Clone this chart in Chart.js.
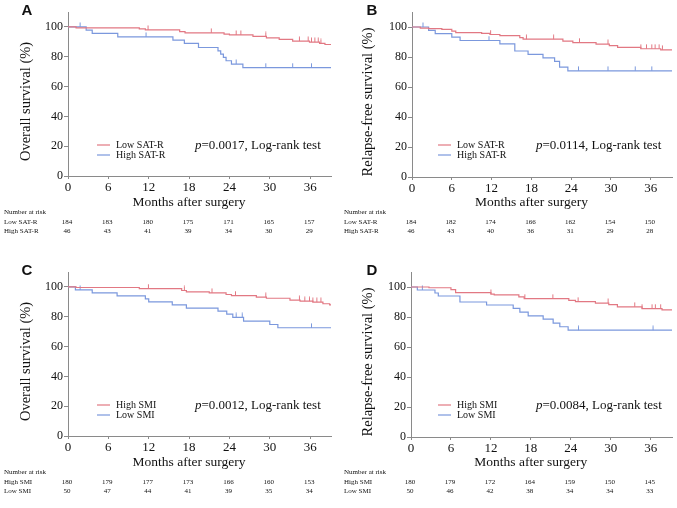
<!DOCTYPE html>
<html><head><meta charset="utf-8">
<script src="https://cdn.jsdelivr.net/npm/chart.js@4.4.1/dist/chart.umd.min.js"></script>
<style>
html,body{margin:0;padding:0;background:#fff;width:677px;height:508px;overflow:hidden}
canvas{position:absolute;display:block}
</style></head><body>
<canvas id="cA" width="338" height="254" style="left:0;top:0"></canvas>
<canvas id="cB" width="337" height="254" style="left:340px;top:0"></canvas>
<canvas id="cC" width="338" height="248" style="left:0;top:260px"></canvas>
<canvas id="cD" width="337" height="248" style="left:340px;top:260px"></canvas>
<script>
// ---- shared ticks ----
const monthTicks = [0, 6, 12, 18, 24, 30, 36];
const survTicks = [0, 20, 40, 60, 80, 100];

// ---- Panel A: Overall survival by SAT-R ----
const aLowTime  = [0, 1.2, 10.6, 11.5, 16.6, 17.4, 23.2, 24.0, 27.5, 29.5, 31.4, 33.4, 35.9, 37.4, 38.2];
const aLowSurv  = [100, 99.3, 98.7, 98.0, 96.9, 96.0, 95.1, 94.6, 93.6, 92.7, 91.6, 90.5, 89.8, 88.9, 88.2];
const aLowCens  = [11.9, 21.3, 25.0, 25.7, 29.4, 34.4, 35.7, 36.2, 36.7, 37.2, 37.6];
const aHighTime = [0, 2.7, 3.6, 7.4, 15.6, 17.3, 19.4, 22.3, 22.7, 23.1, 23.5, 24.3, 26.0];
const aHighSurv = [100, 97.8, 95.6, 93.3, 91.1, 88.9, 86.2, 83.9, 81.7, 79.6, 77.3, 75.1, 72.7];
const aHighCens = [1.8, 11.6, 25.0, 29.4, 33.4, 36.2];
const aRiskLow  = [184, 183, 180, 175, 171, 165, 157];
const aRiskHigh = [46, 43, 41, 39, 34, 30, 29];

// ---- Panel B: Relapse-free survival by SAT-R ----
const bLowTime  = [0, 1.25, 2.5, 4.5, 6.0, 6.6, 10.5, 11.75, 13.25, 16.25, 16.75, 22.75, 24.25, 27.75, 29.75, 31.0, 34.5, 37.5];
const bLowSurv  = [100, 99.3, 98.9, 98.4, 97.3, 96.2, 95.7, 95.0, 94.2, 92.9, 91.9, 90.6, 89.6, 88.6, 87.6, 86.4, 85.5, 84.8];
const bLowCens  = [11.85, 17.25, 21.35, 25.25, 29.55, 34.5, 35.35, 36.15, 36.65, 37.25, 37.75];
const bHighTime = [0, 2.5, 3.5, 6.0, 7.25, 13.25, 15.5, 17.5, 19.75, 21.5, 22.25, 23.5];
const bHighSurv = [100, 97.8, 95.6, 93.3, 91.0, 88.8, 84.0, 81.8, 79.4, 77.1, 73.3, 70.8];
const bHighCens = [1.65, 11.6, 25.1, 29.55, 33.65, 36.15];
const bRiskLow  = [184, 182, 174, 166, 162, 154, 150];
const bRiskHigh = [46, 43, 40, 36, 31, 29, 28];

// ---- Panel C: Overall survival by SMI ----
const cHighTime = [0, 1.2, 10.6, 16.9, 17.6, 21.0, 23.5, 24.3, 28.0, 29.5, 33.0, 34.5, 36.4, 37.9, 38.9];
const cHighSurv = [100, 99.6, 98.9, 97.6, 96.7, 96.0, 94.9, 94.2, 93.1, 92.4, 91.1, 90.4, 89.8, 88.7, 88.0];
const cHighCens = [11.95, 17.3, 21.4, 24.9, 29.4, 34.4, 35.2, 35.9, 36.4, 37.0, 37.6];
const cLowTime  = [0, 1.1, 3.6, 7.3, 11.5, 12.0, 15.5, 17.6, 22.3, 23.6, 24.5, 26.1, 30.0, 31.2];
const cLowSurv  = [100, 98.0, 96.0, 94.0, 92.0, 90.0, 87.9, 85.8, 83.8, 81.7, 79.6, 77.0, 74.8, 72.6];
const cLowCens  = [1.8, 25.0, 25.9, 36.2];
const cRiskHigh = [180, 179, 177, 173, 166, 160, 153];
const cRiskLow  = [50, 47, 44, 41, 39, 35, 34];

// ---- Panel D: Relapse-free survival by SMI ----
const dHighTime = [0, 2.7, 6.0, 6.7, 12.0, 12.5, 16.2, 17.0, 23.7, 24.7, 27.7, 29.7, 31.0, 34.7, 37.7];
const dHighSurv = [100, 99.5, 98.2, 96.3, 95.3, 94.7, 93.4, 92.2, 91.1, 90.2, 89.3, 88.2, 86.8, 85.6, 84.8];
const dHighCens = [12.0, 17.1, 21.3, 25.1, 29.6, 33.6, 34.7, 36.2, 36.7, 37.5];
const dLowTime  = [0, 0.95, 3.6, 4.1, 7.35, 11.35, 15.35, 16.35, 17.6, 19.85, 21.35, 22.35, 23.6];
const dLowSurv  = [100, 98.0, 96.0, 94.0, 90.0, 88.0, 85.8, 83.2, 80.8, 78.6, 75.9, 73.5, 71.2];
const dLowCens  = [1.7, 25.15, 36.35];
const dRiskHigh = [180, 179, 172, 164, 159, 150, 145];
const dRiskLow  = [50, 46, 42, 38, 34, 34, 33];

const RED = '#e27883';
const BLUE = '#7b98dd';
const AXIS = '#8a8a8a';
const SERIF = '"Liberation Serif", "Times New Roman", serif';

function stepAt(times, surv, t) {
  let v = surv[0];
  for (let i = 0; i < times.length; i++) if (times[i] <= t) v = surv[i];
  return v;
}
function curve(times, surv, endT) {
  const pts = times.map((t, i) => ({x: t, y: surv[i]}));
  pts.push({x: endT, y: surv[surv.length - 1]});
  return pts;
}
function tickImg(color) {
  const c = document.createElement('canvas');
  c.width = 3; c.height = 10;
  const g = c.getContext('2d');
  g.strokeStyle = color; g.lineWidth = 1;
  g.beginPath(); g.moveTo(1.5, 0.5); g.lineTo(1.5, 5); g.stroke();
  return c;
}

function overlay(P) {
  return {
    id: 'km' + P.letter,
    afterDraw(chart) {
      const ctx = chart.ctx, xs = chart.scales.x, ys = chart.scales.y;
      ctx.save();
      ctx.fillStyle = '#111';
      ctx.textBaseline = 'middle';
      // panel letter
      ctx.textAlign = 'center';
      ctx.font = 'bold 15px "Liberation Sans", Arial, sans-serif';
      ctx.fillText(P.letter, P.letterX, 11);
      // y title
      ctx.save();
      ctx.translate(P.yTitleX, ys.getPixelForValue(50));
      ctx.rotate(-Math.PI / 2);
      ctx.font = '14.5px ' + SERIF;
      ctx.fillText(P.yTitle, 0, 0);
      ctx.restore();
      // x title
      ctx.font = '13.5px ' + SERIF;
      ctx.fillText('Months after surgery', xs.getPixelForValue(18), 202);
      // legend
      ctx.textAlign = 'left';
      ctx.font = '10px ' + SERIF;
      [[RED, P.names[0], 145], [BLUE, P.names[1], 155]].forEach(([col, name, y]) => {
        ctx.strokeStyle = col; ctx.lineWidth = 1.2;
        ctx.beginPath(); ctx.moveTo(P.legX, y); ctx.lineTo(P.legX + 13, y); ctx.stroke();
        ctx.fillText(name, P.legX + 19, y);
      });
      // p-value
      ctx.font = 'italic 13px ' + SERIF;
      ctx.fillText('p', P.pX, 146);
      const w = ctx.measureText('p').width;
      ctx.font = '13px ' + SERIF;
      ctx.fillText(P.pText, P.pX + w, 146);
      // risk table
      ctx.font = '7px ' + SERIF;
      ctx.fillText('Number at risk', 4, 212);
      ctx.fillText(P.names[0], 4, 222);
      ctx.fillText(P.names[1], 4, 231);
      ctx.textAlign = 'center';
      monthTicks.forEach((m, i) => {
        const x = xs.getPixelForValue(m) - 1;
        ctx.fillText(String(P.r1[i]), x, 222);
        ctx.fillText(String(P.r2[i]), x, 231);
      });
      ctx.restore();
    }
  };
}

function makeChart(P) {
  return new Chart(document.getElementById(P.id), {
    type: 'line',
    data: {
      datasets: [
        {data: curve(P.t1, P.s1, P.xMax), borderColor: RED, borderWidth: 1.2, pointRadius: 0, stepped: true, fill: false},
        {data: curve(P.t2, P.s2, P.xMax), borderColor: BLUE, borderWidth: 1.2, pointRadius: 0, stepped: true, fill: false},
        {data: P.c1.map(t => ({x: t, y: stepAt(P.t1, P.s1, t)})), showLine: false, pointStyle: tickImg(RED), pointRadius: 3},
        {data: P.c2.map(t => ({x: t, y: stepAt(P.t2, P.s2, t)})), showLine: false, pointStyle: tickImg(BLUE), pointRadius: 3}
      ]
    },
    options: {
      responsive: false, animation: false, events: [],
      layout: {padding: {left: 0, top: 12, right: P.padRight, bottom: P.padBottom}},
      plugins: {legend: {display: false}, tooltip: {enabled: false}},
      scales: {
        x: {
          type: 'linear', min: 0, max: P.xMax,
          afterBuildTicks: s => { s.ticks = monthTicks.map(v => ({value: v})); },
          afterFit: s => { s.height = 34; },
          grid: {drawOnChartArea: false, drawTicks: true, tickLength: 3, color: AXIS},
          border: {display: true, color: AXIS, width: 1},
          ticks: {font: {family: SERIF, size: 13}, color: '#111', padding: 1, maxRotation: 0, autoSkip: false}
        },
        y: {
          type: 'linear', min: 0, max: 110,
          afterBuildTicks: s => { s.ticks = survTicks.map(v => ({value: v})); },
          afterFit: s => { s.width = P.left; },
          grid: {drawOnChartArea: false, drawTicks: true, tickLength: 4, color: AXIS},
          border: {display: true, color: AXIS, width: 1},
          ticks: {font: {family: SERIF, size: 12}, color: '#111', padding: 1}
        }
      }
    },
    plugins: [overlay(P)]
  });
}

makeChart({id: 'cA', letter: 'A', letterX: 27, yTitleX: 26, yTitle: 'Overall survival (%)',
  left: 68, padRight: 7, padBottom: 44, xMax: 39.1,
  t1: aLowTime, s1: aLowSurv, c1: aLowCens, t2: aHighTime, s2: aHighSurv, c2: aHighCens,
  names: ['Low SAT-R', 'High SAT-R'], r1: aRiskLow, r2: aRiskHigh,
  legX: 97, pX: 195, pText: '=0.0017, Log-rank test'});
makeChart({id: 'cB', letter: 'B', letterX: 32, yTitleX: 28, yTitle: 'Relapse-free survival (%)',
  left: 72, padRight: 4, padBottom: 43, xMax: 39.2,
  t1: bLowTime, s1: bLowSurv, c1: bLowCens, t2: bHighTime, s2: bHighSurv, c2: bHighCens,
  names: ['Low SAT-R', 'High SAT-R'], r1: bRiskLow, r2: bRiskHigh,
  legX: 98, pX: 196, pText: '=0.0114, Log-rank test'});
makeChart({id: 'cC', letter: 'C', letterX: 27, yTitleX: 26, yTitle: 'Overall survival (%)',
  left: 68, padRight: 7, padBottom: 38, xMax: 39.1,
  t1: cHighTime, s1: cHighSurv, c1: cHighCens, t2: cLowTime, s2: cLowSurv, c2: cLowCens,
  names: ['High SMI', 'Low SMI'], r1: cRiskHigh, r2: cRiskLow,
  legX: 97, pX: 195, pText: '=0.0012, Log-rank test'});
makeChart({id: 'cD', letter: 'D', letterX: 32, yTitleX: 28, yTitle: 'Relapse-free survival (%)',
  left: 71, padRight: 4, padBottom: 37, xMax: 39.2,
  t1: dHighTime, s1: dHighSurv, c1: dHighCens, t2: dLowTime, s2: dLowSurv, c2: dLowCens,
  names: ['High SMI', 'Low SMI'], r1: dRiskHigh, r2: dRiskLow,
  legX: 98, pX: 196, pText: '=0.0084, Log-rank test'});
</script>
</body></html>
